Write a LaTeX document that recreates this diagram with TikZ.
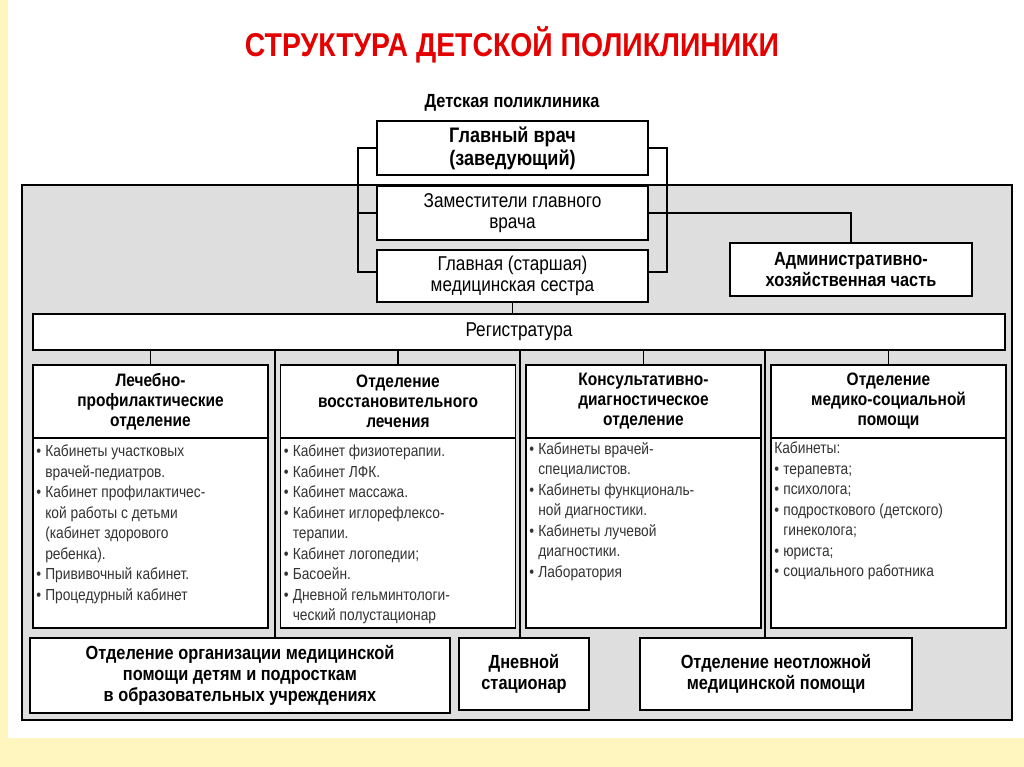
\documentclass[tikz,border=0pt]{standalone}
\usepackage{fontspec}
\setmainfont{Liberation Sans}[FakeStretch=0.86]
\begin{document}
\begin{tikzpicture}[x=1pt,y=-1pt,
  box/.style={draw=black,line width=1.8pt,fill=white,align=center,inner sep=0pt},
  hd/.style={font=\bfseries\fontsize{19}{21}\selectfont},
  nm/.style={font=\fontsize{20}{21}\selectfont},
  bd/.style={font=\fontsize{16}{20.5}\selectfont,text=black!80,align=left,anchor=north west,inner sep=0pt},
  ln/.style={line width=1.2pt}]
\newcommand\bl{\makebox[9pt][l]{•}}
\newcommand\ct{\hspace*{9pt}}
\useasboundingbox (0,0) rectangle (1024,767);
\fill[white] (0,0) rectangle (1024,767);
\fill[orange!30!yellow!25] (0,738) rectangle (1024,767);
\fill[orange!30!yellow!25] (0,0) rectangle (8,738);
\node[text=red!90!black,font=\bfseries\fontsize{33}{36}\selectfont] (title) at (512,45) {СТРУКТУРА ДЕТСКОЙ ПОЛИКЛИНИКИ};
\node[font=\bfseries\fontsize{19}{21}\selectfont] (dp) at (512,103) {Детская поликлиника};
\draw[fill=black!13,line width=1.2pt] (22,185) rectangle (1012,720);
% top boxes
\node[box,minimum width=271pt,minimum height=54pt,font=\bfseries\fontsize{21}{23}\selectfont] (gv) at (512.5,148) {Главный врач\\(заведующий)};
\node[box,minimum width=271pt,minimum height=54pt,nm] (zam) at (512.5,213) {Заместители главного\\врача};
\node[box,minimum width=271pt,minimum height=52pt,nm] (ms) at (512.5,276) {Главная (старшая)\\медицинская сестра};
\node[box,minimum width=242pt,minimum height=53pt,hd] (adm) at (851,269.5) {Административно-\\хозяйственная часть};
\coordinate (l1) at (358,148); \coordinate (l3) at (358,272);
\coordinate (r1) at (667,148); \coordinate (r3) at (667,272);
\coordinate (a2) at (851,213);
\draw[ln] (gv.west) -- (l1) -- (l3) -- (ms.west|-l3);
\draw[ln] (zam.west) -- (zam.west-|l1);
\draw[ln] (gv.east) -- (r1) -- (r3) -- (ms.east|-r3);
\draw[ln] (zam.east) -- (a2) -- (adm.north);
\node[box,minimum width=972pt,minimum height=36pt,nm] (reg) at (519,332) {Регистратура};
\draw[ln] (ms.south) -- (reg.north-|ms.south);
% columns
\foreach \i/\x/\t in {1/150.5/{Лечебно-\\профилактические\\отделение},2/398/{Отделение\\восстановительного\\лечения},3/643.5/{Консультативно-\\диагностическое\\отделение},4/888.5/{Отделение\\медико-социальной\\помощи}}{
  \node[box,minimum width=235pt,minimum height=190pt,anchor=north] (b\i) at (\x,437) {};
  \node[box,minimum width=235pt,minimum height=73pt,font=\bfseries\fontsize{18}{20}\selectfont,anchor=north] (h\i) at (\x,364) {\t};
  \draw[ln] (reg.south-|h\i.north) -- (h\i.north);
}
\node[bd] (t1) at ([shift={(4,8)}]b1.north west) {\bl Кабинеты участковых\\\ct врачей-педиатров.\\\bl Кабинет профилактичес-\\\ct кой работы с детьми\\\ct (кабинет здорового\\\ct ребенка).\\\bl Прививочный кабинет.\\\bl Процедурный кабинет};
\node[bd] (t2) at ([shift={(4,8)}]b2.north west) {\bl Кабинет физиотерапии.\\\bl Кабинет ЛФК.\\\bl Кабинет массажа.\\\bl Кабинет иглорефлексо-\\\ct терапии.\\\bl Кабинет логопедии;\\\bl Басоейн.\\\bl Дневной гельминтологи-\\\ct ческий полустационар};
\node[bd] (t3) at ([shift={(4,5)}]b3.north west) {\bl Кабинеты врачей-\\\ct специалистов.\\\bl Кабинеты функциональ-\\\ct ной диагностики.\\\bl Кабинеты лучевой\\\ct диагностики.\\\bl Лаборатория};
\node[bd] (t4) at ([shift={(4,5)}]b4.north west) {Кабинеты:\\\bl терапевта;\\\bl психолога;\\\bl подросткового (детского)\\\ct гинеколога;\\\bl юриста;\\\bl социального работника};
% bottom boxes
\node[box,minimum width=420pt,minimum height=75pt,hd] (o1) at (240,675.5) {Отделение организации медицинской\\помощи детям и подросткам\\в образовательных учреждениях};
\node[box,minimum width=130pt,minimum height=72pt,hd] (o2) at (524,674) {Дневной\\стационар};
\node[box,minimum width=272pt,minimum height=72pt,hd] (o3) at (776,674) {Отделение неотложной\\медицинской помощи};
\coordinate (v1) at (275,350); \coordinate (v2) at (520,350); \coordinate (v3) at (765,350);
\draw[ln] (reg.south-|v1) -- (o1.north-|v1);
\draw[ln] (reg.south-|v2) -- (o2.north-|v2);
\draw[ln] (reg.south-|v3) -- (o3.north-|v3);
\end{tikzpicture}
\end{document}
